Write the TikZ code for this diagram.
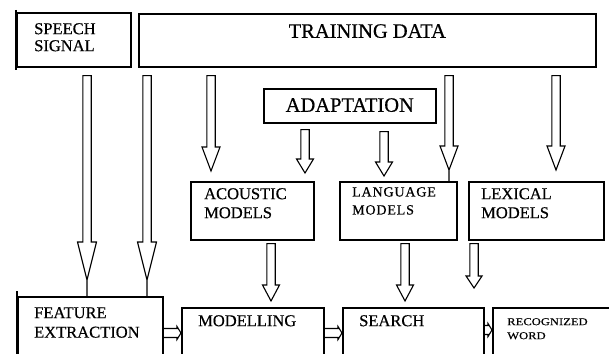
\documentclass[tikz,border=0pt]{standalone}
\usepackage{fontspec}
\setmainfont[FakeBold=0.5]{Liberation Serif}
\usepackage{tikz}
\usetikzlibrary{calc,positioning}

\tikzset{
  hl/.store in=\hl, hl=24pt,
  hw/.store in=\hw, hw=9pt,
  box/.style={draw, line width=1.6pt, inner sep=0pt, anchor=north west},
  txt/.style={inner sep=0pt, anchor=north west, align=left, font=\fontsize{16.5}{19}\selectfont},
  blk/.style={line width=1.1pt, to path={let \p1=(\tikztostart), \p2=(\tikztotarget) in
     (\x1-4.2pt,\y1) -- (\x1-4.2pt,\y2+\hl) -- (\x1-\hw,\y2+\hl) -- (\x1,\y2)
     -- (\x1+\hw,\y2+\hl) -- (\x1+4.2pt,\y2+\hl) -- (\x1+4.2pt,\y1) -- cycle (\x1,\y2)}},
  hblk/.style={line width=1.1pt, to path={let \p1=(\tikztostart), \p2=(\tikztotarget) in
     (\x1,\y1+4.5pt) -- (\x2-4pt,\y1+4.5pt) -- (\x2-4pt,\y1+6.5pt) -- (\x2,\y1)
     -- (\x2-4pt,\y1-6.5pt) -- (\x2-4pt,\y1-4.5pt) -- (\x1,\y1-4.5pt) (\x2,\y1)}},
}

\begin{document}
\begin{tikzpicture}[x=1pt, y=-1pt]
    \useasboundingbox (0,0) rectangle (609,353);
    \clip (0,0) rectangle (609,353);

    % Top row
    \node[box, minimum width=114pt, minimum height=54pt] (speech) at (16,12) {};
    \node[box, minimum width=457pt, minimum height=53pt] (train) at (138,13) {};
    \node[box, minimum width=172pt, minimum height=34pt] (adapt) at (263,88) {};

    % Models
    \node[box, minimum width=123pt, minimum height=58pt] (acoustic) at (190,181) {};
    \node[box, minimum width=117pt, minimum height=58pt] (language) at (339,181) {};
    \node[box, minimum width=135pt, minimum height=58pt] (lexical) at (468,181) {};

    % Bottom row (runs off the page)
    \node[box, minimum width=145pt, minimum height=80pt] (feature) at (17,296) {};
    \node[box, minimum width=142pt, minimum height=70pt] (modelling) at (181,307) {};
    \node[box, minimum width=141pt, minimum height=70pt] (search) at (342,307) {};
    \node[box, minimum width=130pt, minimum height=70pt] (recog) at (492,307) {};

    % Thick left edges
    \draw[line width=2pt] ([yshift=2pt]speech.north west) -- ([yshift=-2pt]speech.south west);
    \draw[line width=2pt] ([yshift=5pt]feature.north west) -- (feature.south west);

    % Labels
    \node[txt, font=\fontsize{16.5}{17}\selectfont, below right=11pt and 18pt of speech.north west] (speechtxt) {SPEECH\\SIGNAL};
    \node[txt, font=\fontsize{20.5}{24}\selectfont, below=11pt of train.north] (traintxt) {TRAINING DATA};
    \node[txt, font=\fontsize{20.5}{24}\selectfont, below=10pt of adapt.north] (adapttxt) {ADAPTATION};
    \node[txt, below right=7pt and 14pt of acoustic.north west] (acoustictxt) {ACOUSTIC\\MODELS};
    \node[txt, font=\fontsize{14}{18}\selectfont\addfontfeature{LetterSpace=6}, below right=6pt and 13pt of language.north west] (languagetxt) {LANGUAGE\\MODELS};
    \node[txt, below right=7pt and 13pt of lexical.north west] (lexicaltxt) {LEXICAL\\MODELS};
    \node[txt, font=\fontsize{16.5}{19.5}\selectfont, below right=11pt and 17pt of feature.north west] (featuretxt) {FEATURE\\EXTRACTION};
    \node[txt, below right=8pt and 17pt of modelling.north west] (modellingtxt) {MODELLING};
    \node[txt, below right=8pt and 17pt of search.north west] (searchtxt) {SEARCH};
    \node[txt, font=\fontsize{10.5}{14}\selectfont\addfontfeature{FakeStretch=1.2}, below right=11pt and 15pt of recog.north west] (recogtxt) {RECOGNIZED\\WORD};

    % Into feature extraction
    \draw[blk, hl=38pt, hw=9.5pt] ([shift={(71,8)}]speech.south west) to ([shift={(70,-16)}]feature.north west) -- ([xshift=70pt]feature.north west);
    \draw[blk, hl=38pt, hw=9.5pt] ([shift={(9,8)}]train.south west) to ([shift={(130,-16)}]feature.north west) -- ([xshift=130pt]feature.north west);

    % Training data and adaptation into the models
    \draw[blk] ([shift={(73,8)}]train.south west) to ([shift={(21,-10)}]acoustic.north west);
    \draw[blk, hl=14pt, hw=8.5pt] ([shift={(42,6)}]adapt.south west) to ([shift={(115,-8)}]acoustic.north west);
    \draw[blk, hl=14pt, hw=8.5pt] ([shift={(121,8)}]adapt.south west) to ([shift={(45,-5)}]language.north west);
    \draw[blk] ([shift={(311,8)}]train.south west) to ([shift={(110,-11)}]language.north west) -- ([xshift=110pt]language.north west);
    \draw[blk] ([shift={(418,8)}]train.south west) to ([shift={(88,-11)}]lexical.north west);

    % Models into modelling and search
    \draw[blk, hl=16pt, hw=8.5pt] ([shift={(81,3)}]acoustic.south west) to ([shift={(90,-6)}]modelling.north west);
    \draw[blk, hl=16pt, hw=8.5pt] ([shift={(66,3)}]language.south west) to ([shift={(63,-6)}]search.north west);
    \draw[blk, hl=12pt, hw=8pt] ([shift={(6,3)}]lexical.south west) to ([shift={(132,-19)}]search.north west);

    % Bottom chain
    \draw[hblk] ([yshift=-37pt]feature.north east) to ([yshift=-26pt]modelling.north west);
    \draw[hblk] ([yshift=-26pt]modelling.north east) to ([yshift=-26pt]search.north west);
    \draw[hblk] ([yshift=-23pt]search.north east) to ([yshift=-23pt]recog.north west);
\end{tikzpicture}
\end{document}
